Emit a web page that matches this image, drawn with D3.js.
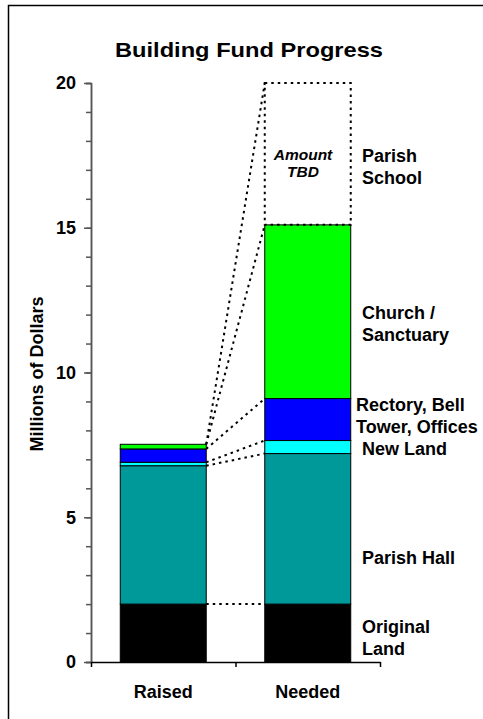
<!DOCTYPE html>
<html lang="en">
<head>
    <meta charset="UTF-8">
    <title>Building Fund Progress</title>
    <style>
        body {
            margin: 0;
            background-color: #fff;
            font-family: Arial, "Liberation Sans", sans-serif;
            font-weight: bold;
        }
    </style>
    <script src="https://d3js.org/d3.v7.min.js"></script>
</head>
<body>
    <div id="chart"></div>

    <script>
        // chart data (millions of dollars)
        const categories = ["Raised", "Needed"];
        const segments = ["Original Land", "Parish Hall", "New Land", "Rectory, Bell Tower, Offices", "Church / Sanctuary", "Parish School"];
        const raised = [2.0, 4.78, 0.12, 0.46, 0.16, 0];
        const needed = [2.0, 5.2, 0.45, 1.45, 6.0, 4.9];
        const segColors = ["#000000", "#009999", "#00ffff", "#0000ff", "#00ff00", "none"];
        const yTicks = [0, 5, 10, 15, 20];
        const yMinor = d3.range(0, 21, 1);

        // labels on the right, each line with the value its baseline sits at
        const labelLines = [
            ["Parish", 17.27], ["School", 16.51],
            ["Church /", 11.85], ["Sanctuary", 11.09],
            ["Rectory, Bell", 8.67], ["Tower, Offices", 7.91], ["New Land", 7.15],
            ["Parish Hall", 3.39],
            ["Original", 1.0], ["Land", 0.24]
        ];

        const width = 483;
        const height = 719;

        const svg = d3.select("#chart").append("svg")
            .attr("width", width)
            .attr("height", height);

        // outer frame (runs off the right and bottom)
        svg.append("rect")
            .attr("x", 8.5).attr("y", 5.5)
            .attr("width", 520).attr("height", 740)
            .attr("fill", "none")
            .attr("stroke", "#000")
            .attr("stroke-width", 1.5);

        const y = d3.scaleLinear().domain([0, 20]).range([662, 83]);
        const x = d3.scaleBand().domain(categories).range([91, 380])
            .paddingInner(0.405).paddingOuter(0.2025);

        svg.append("text")
            .attr("x", 249).attr("y", 57)
            .attr("text-anchor", "middle")
            .attr("font-size", 21)
            .attr("textLength", 268)
            .attr("lengthAdjust", "spacingAndGlyphs")
            .text("Building Fund Progress");

        // stacks
        const stack = (vals) => {
            let c = 0;
            return vals.map((v, i) => { const s = { i, y0: c, y1: c + v }; c += v; return s; });
        };
        const stacks = { Raised: stack(raised), Needed: stack(needed) };

        categories.forEach(cat => {
            const g = svg.append("g");
            g.selectAll("rect")
                .data(stacks[cat].filter(d => d.y1 > d.y0))
                .enter().append("rect")
                .attr("x", x(cat))
                .attr("width", x.bandwidth())
                .attr("y", d => y(d.y1))
                .attr("height", d => y(d.y0) - y(d.y1))
                .attr("fill", d => segColors[d.i])
                .attr("stroke", "#000")
                .attr("stroke-width", d => segColors[d.i] === "none" ? 2 : 1)
                .attr("stroke-dasharray", d => segColors[d.i] === "none" ? "2.5,4" : null);
        });

        // dotted connectors from raised to needed
        const xr = x("Raised") + x.bandwidth();
        const xn = x("Needed");
        const joins = segments.map((s, i) => [stacks.Raised[i].y1, stacks.Needed[i].y1]);
        svg.append("g").selectAll("line")
            .data(joins)
            .enter().append("line")
            .attr("x1", xr).attr("x2", xn)
            .attr("y1", d => y(d[0]))
            .attr("y2", d => y(d[1]))
            .attr("stroke", "#000")
            .attr("stroke-width", 2)
            .attr("stroke-dasharray", "2.5,4");

        // "Amount TBD" inside dotted box
        const tbd = svg.append("text")
            .attr("text-anchor", "middle")
            .attr("font-size", 15.5)
            .attr("font-style", "italic");
        tbd.append("tspan").attr("x", 303).attr("y", 160).text("Amount");
        tbd.append("tspan").attr("x", 303).attr("y", 177).text("TBD");

        // y axis: minor and major ticks
        svg.append("g")
            .attr("transform", "translate(91,0)")
            .call(d3.axisLeft(y).tickValues(yMinor).tickSize(5).tickFormat(""))
            .call(g => g.selectAll("line,path").attr("stroke", "#555").attr("stroke-width", 1.5));

        svg.append("g")
            .attr("transform", "translate(91,0)")
            .call(d3.axisLeft(y).tickValues(yTicks).tickSize(7).tickSizeOuter(0).tickPadding(8))
            .call(g => g.selectAll("line,path").attr("stroke", "#555").attr("stroke-width", 1.5))
            .call(g => g.selectAll("text")
                .attr("font-size", 18)
                .attr("font-family", "Arial, 'Liberation Sans', sans-serif")
                .attr("font-weight", "bold")
                .attr("fill", "#000"));

        // x axis with ticks at the category edges
        const xEdges = d3.scaleLinear().domain([0, 2]).range([91, 380]);
        svg.append("g")
            .attr("transform", "translate(0,662)")
            .call(d3.axisBottom(xEdges).tickValues([0, 1, 2]).tickSize(5).tickSizeOuter(0).tickFormat(""))
            .call(g => g.selectAll("line,path").attr("stroke", "#000").attr("stroke-width", 1.5));

        svg.append("g").selectAll("text")
            .data(categories)
            .enter().append("text")
            .attr("x", d => x(d) + x.bandwidth() / 2)
            .attr("y", 698)
            .attr("text-anchor", "middle")
            .attr("font-size", 18)
            .text(d => d);

        svg.append("text")
            .attr("transform", "translate(43,374) rotate(-90)")
            .attr("text-anchor", "middle")
            .attr("font-size", 18)
            .text("Millions of Dollars");

        // segment labels
        svg.append("g").selectAll("text")
            .data(labelLines)
            .enter().append("text")
            .attr("x", d => d[0].startsWith("Rectory") || d[0].startsWith("Tower") ? 356 : 362)
            .attr("y", d => y(d[1]))
            .attr("font-size", 18)
            .text(d => d[0]);
    </script>
</body>
</html>
